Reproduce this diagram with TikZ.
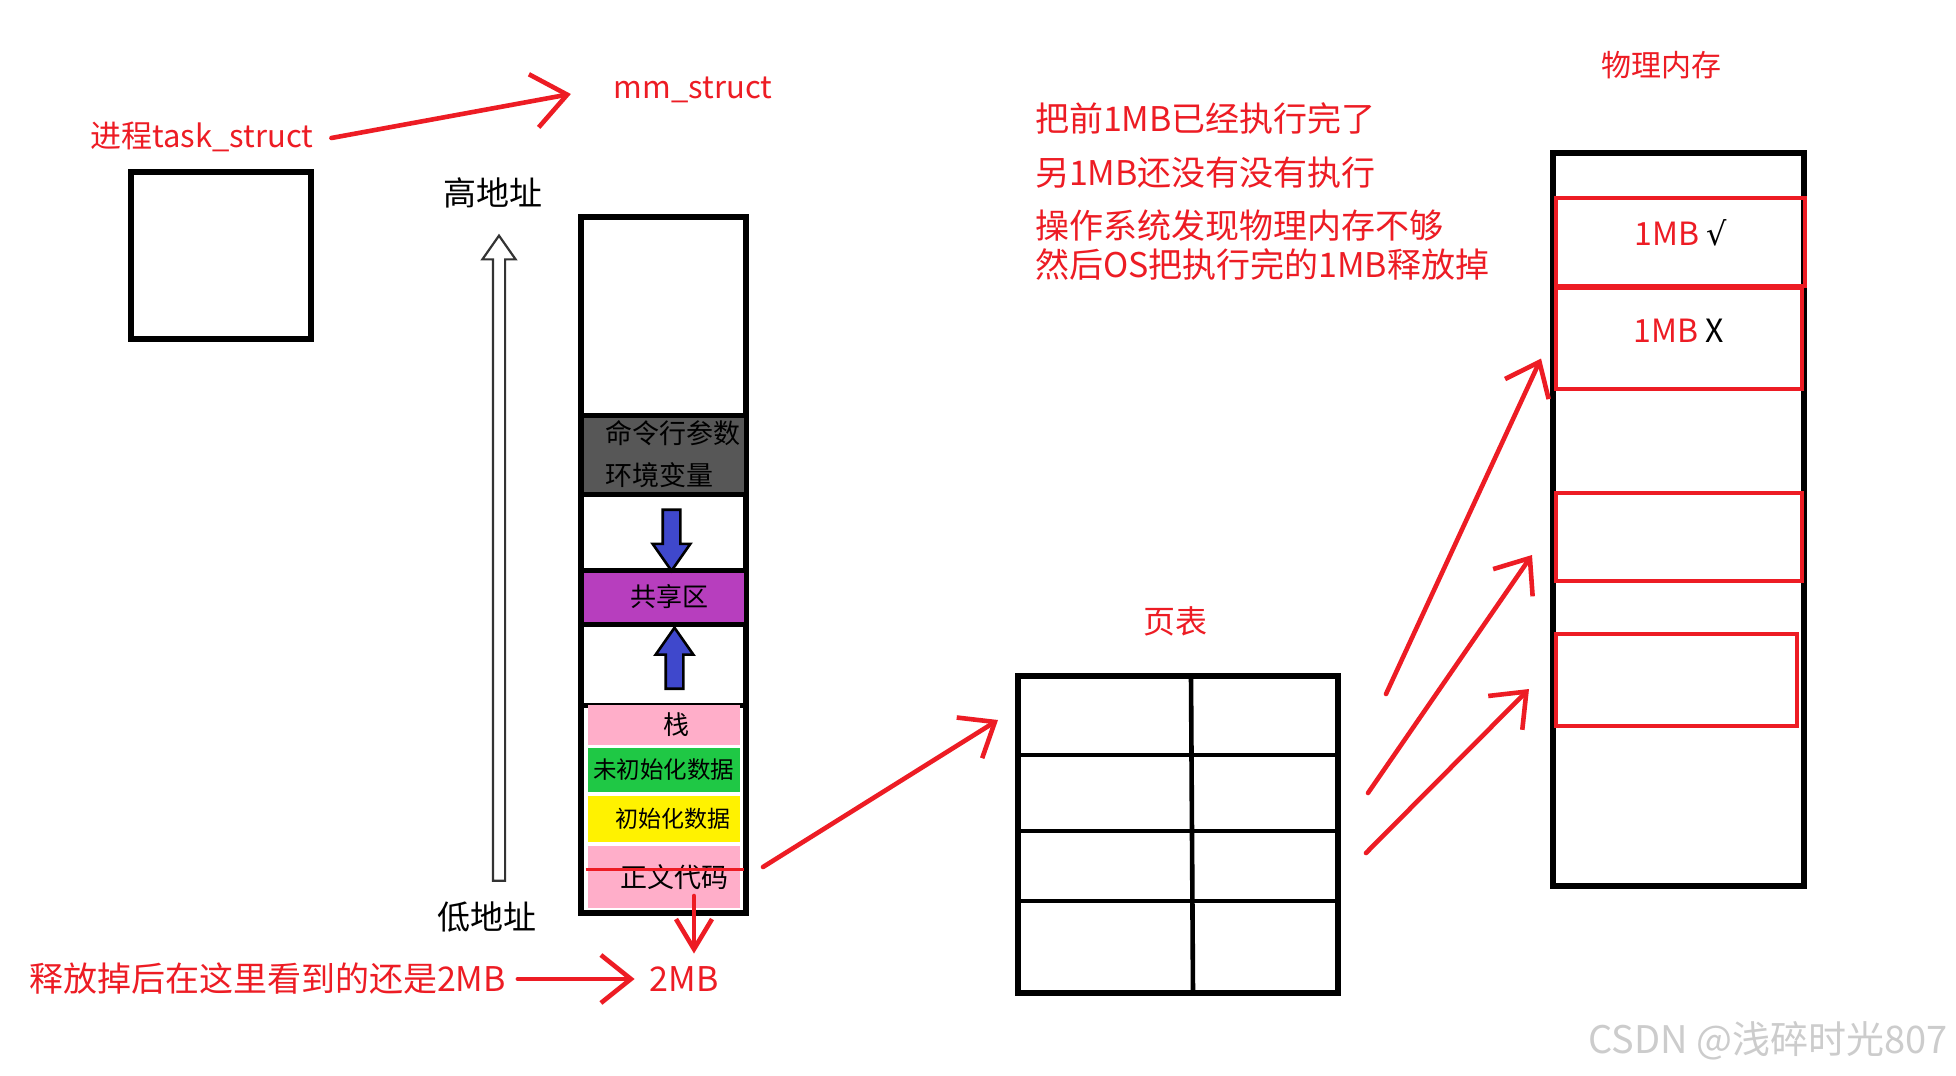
\documentclass[tikz,border=0pt]{standalone}
\usepackage{fontspec}
\setmainfont{Noto Sans CJK SC}
\newfontfamily\symfont{DejaVu Sans}
\usepackage{tikz}
\usetikzlibrary{positioning,arrows.meta,calc,shapes.arrows}
\definecolor{pen}{HTML}{ED1C24}
\definecolor{argsgray}{HTML}{575757}
\definecolor{sharecol}{HTML}{B73EBE}
\definecolor{pinkseg}{HTML}{FFAEC9}
\definecolor{greenseg}{HTML}{1FC845}
\definecolor{yellowseg}{HTML}{FFF200}
\definecolor{indigo}{HTML}{3F48CC}

\begin{document}
\begin{tikzpicture}[x=0.5pt,y=-0.5pt,
  every node/.style={inner sep=0pt,outer sep=0pt},
  note/.style={text=pen,font=\fontsize{17}{21}\selectfont},
  plain/.style={font=\fontsize{16.5}{20}\selectfont},
  frame/.style={draw=black,line width=3pt},
  cell/.style={draw=black,line width=2.5pt,minimum width=82.5pt},
  seg/.style={minimum width=76pt},
  slot/.style={draw=pen,line width=2.3pt,text=pen,font=\fontsize{16}{18}\selectfont,text height=5pt,text depth=1.5pt},
  grid/.style={draw=black,line width=2.3pt,line cap=round},
  redarr/.style={draw=pen,line width=2.3pt,line cap=round,line join=round,-{Straight Barb[length=15pt,width=24pt]}},
  growarr/.style={single arrow,draw=black,fill=indigo,line width=1.3pt,inner xsep=0pt,inner ysep=3.75pt,
    single arrow head extend=5pt,single arrow tip angle=70,minimum height=30.5pt},
  addrarr/.style={single arrow,draw=black!80,fill=white,line width=1.1pt,inner xsep=0pt,inner ysep=2.5pt,
    single arrow head extend=5.25pt,single arrow tip angle=70,minimum height=322.5pt}]
  \useasboundingbox (0,0) rectangle (1956,1076);
  \fill[white] (0,0) rectangle (1956,1076);

  % process and its mm_struct
  \node[note,font=\fontsize{15.5}{19}\selectfont] (task) at (202,137) {进程task\_struct};
  \node[note,font=\fontsize{15.5}{19}\selectfont] (mm) at (693,90) {mm\_struct};
  \node[frame,minimum width=90pt,minimum height=83.5pt] (tcb) at (221,255.5) {};
  \draw[redarr,-{Straight Barb[length=17pt,width=27pt]}] ($(task.east)+(18,1)$) -- ($(mm.west)+(-43,4)$);

  % virtual address space
  \node[plain] (high) at (493,193) {高地址};
  \node[plain] (low) at (487,917) {低地址};
  \node[addrarr,rotate=90] (addr) at (499,562.5) {};
  \node[frame,line width=3.1pt,minimum width=82.5pt,minimum height=348pt] (vm) at (663.5,565) {};
  \node[cell,fill=argsgray,minimum height=39.5pt,align=left,font=\fontsize{13.5}{21}\selectfont] (args) at (663.5,454.5)
    {\hspace*{9pt}命令行参数\\\hspace*{9pt}环境变量};
  \node[cell,minimum height=38pt,below=0pt of args] (down) {};
  \node[cell,fill=sharecol,minimum height=27pt,below=0pt of down,font=\fontsize{13}{16}\selectfont] (share) {\hspace*{6pt}共享区};
  \node[cell,minimum height=40.5pt,below=0pt of share] (up) {};
  \node[seg,fill=pinkseg,minimum height=20pt,below=0pt of up,font=\fontsize{13}{14}\selectfont] (stk) {\hspace*{12.5pt}栈};
  \node[seg,fill=greenseg,minimum height=22pt,below=1.5pt of stk,font=\fontsize{11.75}{14}\selectfont] (bss) {未初始化数据};
  \node[seg,fill=yellowseg,minimum height=23pt,below=2pt of bss,font=\fontsize{11.5}{14}\selectfont] (data) {\hspace*{9pt}初始化数据};
  \node[seg,fill=pinkseg,minimum height=31pt,below=2pt of data,font=\fontsize{13.5}{16}\selectfont] (code) {\hspace*{11pt}正文代码};
  \node[growarr,rotate=-90] (shrink) at ($(down.center)+(8,2)$) {};
  \node[growarr,rotate=90] (grow) at ($(up.center)+(11,0)$) {};
  \draw[pen,line width=1.5pt] ($(code.west)+(-2,-8)$) -- ($(code.east)+(4,-8)$);

  % what is still seen after release
  \coordinate (cut) at ($(code.south)+(30.5,-12)$);
  \node[note] (mb) at (684,979) {2MB};
  \node[note] (rel) at (267.5,979) {释放掉后在这里看到的还是2MB};
  \draw[redarr,-{Straight Barb[length=15pt,width=18pt]},shorten >=6.5pt] (cut) -- (cut |- mb.north);
  \draw[redarr,shorten <=6pt,shorten >=7.5pt] (rel.east) -- (mb.west);

  % page table
  \node[note,font=\fontsize{16}{19}\selectfont] (pttitle) at (1175,621) {页表};
  \node[frame,line width=2.9pt,minimum width=160pt,minimum height=158.5pt] (pt) at (1178,834.5) {};
  \draw[grid] ($(pt.north west)+(173,0)$) -- ($(pt.south west)+(175,0)$);
  \foreach \dy in {79,155,225}
    \draw[grid] ($(pt.north west)+(0,\dy)$) -- ($(pt.north east)+(0,\dy)$);
  \draw[redarr] ($(code.east)+(23.5,-10)$) -- ($(pt.north west)+(-20,44)$);

  % physical memory
  \node[note,font=\fontsize{15}{18}\selectfont] (phystitle) at (1661.5,65) {物理内存};
  \node[frame,line width=2.6pt,minimum width=125.5pt,minimum height=366.5pt] (phys) at (1678.5,519.5) {};
  \node[slot,minimum width=124.5pt,minimum height=44pt] (done) at (1680.5,242) {1MB \textcolor{black}{\symfont √}};
  \node[slot,minimum width=123pt,minimum height=50.5pt] (todo) at (1679,338.5) {1MB \textcolor{black}{X}};
  \node[slot,minimum width=123pt,minimum height=44pt] (free1) at (1679,537) {};
  \node[slot,minimum width=120.5pt,minimum height=46pt] (free2) at (1676.5,680) {};
  \draw[redarr] ($(pt.north east)+(48,18)$) -- ($(todo.west)+(-15,20)$);
  \draw[redarr] ($(pt.north east)+(30,117)$) -- ($(free1.west)+(-24,18)$);
  \draw[redarr] ($(pt.north east)+(28,177)$) -- ($(free2.west)+(-27,9)$);

  % notes
  \node[note,anchor=west] (n1) at (1035,118) {把前1MB已经执行完了};
  \node[note,anchor=west] (n2) at (1035,173) {另1MB还没有没有执行};
  \node[note,anchor=west] (n3) at (1035,226) {操作系统发现物理内存不够};
  \node[note,anchor=west] (n4) at (1035,264) {然后OS把执行完的1MB释放掉};

  \node[text=gray!40,font=\fontsize{19}{22}\selectfont] (mark) at (1768,1041) {CSDN @浅碎时光807};
\end{tikzpicture}
\end{document}
